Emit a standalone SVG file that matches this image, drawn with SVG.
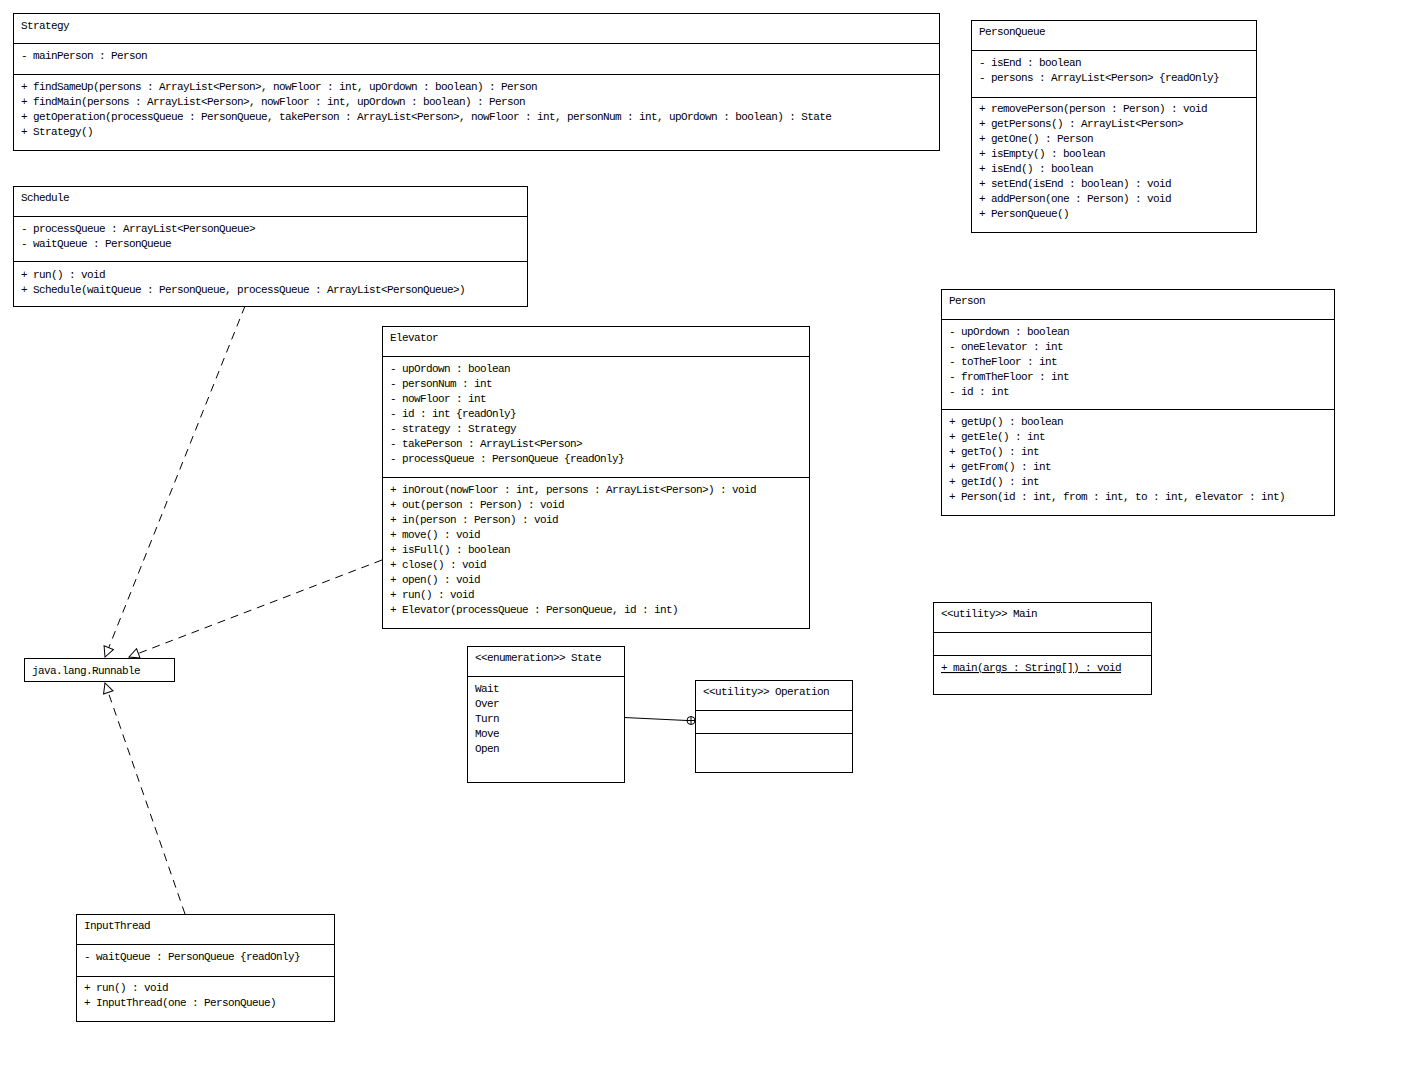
<svg xmlns="http://www.w3.org/2000/svg" width="1404" height="1066" viewBox="0 0 1404 1066">
<style>
.box{fill:#fff;stroke:#000;stroke-width:1}
.sep{stroke:#000;stroke-width:1}
text{font-family:"Liberation Mono","DejaVu Sans Mono",monospace;font-size:11px;letter-spacing:-0.6px;fill:#000}
.dep{fill:none;stroke:#000;stroke-width:1;stroke-dasharray:8,6}
.solid{fill:none;stroke:#000;stroke-width:1}
</style>
<defs>
<marker id="tri" viewBox="0 0 12 12" refX="11" refY="6" markerWidth="12" markerHeight="12" markerUnits="userSpaceOnUse" orient="auto">
<path d="M1,1 L11,6 L1,11 Z" fill="#fff" stroke="#000" stroke-width="1" stroke-dasharray="none"/>
</marker>
</defs>
<rect width="1404" height="1066" fill="#fff"/>

<g id="connectors">
<path class="dep" d="M245,306 L105,657" marker-end="url(#tri)"/>
<path class="dep" d="M382,560 L129,657" marker-end="url(#tri)"/>
<path class="dep" d="M185,914 L105,683" marker-end="url(#tri)"/>
<path class="solid" d="M624,717.5 L687,720.5"/>
<circle cx="691" cy="720.5" r="4" fill="#fff" stroke="#000"/>
<path class="solid" d="M687,720.5 L695,720.5 M691,716.5 L691,724.5"/>
</g>

<g id="Strategy">
<rect class="box" x="13.5" y="13.5" width="926" height="137"/>
<line class="sep" x1="13.5" y1="43.5" x2="939.5" y2="43.5"/>
<line class="sep" x1="13.5" y1="74.5" x2="939.5" y2="74.5"/>
<text x="21" y="29">Strategy</text>
<text x="21" y="59">- mainPerson : Person</text>
<text x="21" y="90">+ findSameUp(persons : ArrayList&lt;Person&gt;, nowFloor : int, upOrdown : boolean) : Person</text>
<text x="21" y="105">+ findMain(persons : ArrayList&lt;Person&gt;, nowFloor : int, upOrdown : boolean) : Person</text>
<text x="21" y="120">+ getOperation(processQueue : PersonQueue, takePerson : ArrayList&lt;Person&gt;, nowFloor : int, personNum : int, upOrdown : boolean) : State</text>
<text x="21" y="135">+ Strategy()</text>
</g>

<g id="Schedule">
<rect class="box" x="13.5" y="186.5" width="514" height="120"/>
<line class="sep" x1="13.5" y1="216.5" x2="527.5" y2="216.5"/>
<line class="sep" x1="13.5" y1="261.5" x2="527.5" y2="261.5"/>
<text x="21" y="201">Schedule</text>
<text x="21" y="232">- processQueue : ArrayList&lt;PersonQueue&gt;</text>
<text x="21" y="247">- waitQueue : PersonQueue</text>
<text x="21" y="278">+ run() : void</text>
<text x="21" y="293">+ Schedule(waitQueue : PersonQueue, processQueue : ArrayList&lt;PersonQueue&gt;)</text>
</g>

<g id="PersonQueue">
<rect class="box" x="971.5" y="20.5" width="285" height="212"/>
<line class="sep" x1="971.5" y1="50.5" x2="1256.5" y2="50.5"/>
<line class="sep" x1="971.5" y1="97.5" x2="1256.5" y2="97.5"/>
<text x="979" y="35">PersonQueue</text>
<text x="979" y="66">- isEnd : boolean</text>
<text x="979" y="81">- persons : ArrayList&lt;Person&gt; {readOnly}</text>
<text x="979" y="112">+ removePerson(person : Person) : void</text>
<text x="979" y="127">+ getPersons() : ArrayList&lt;Person&gt;</text>
<text x="979" y="142">+ getOne() : Person</text>
<text x="979" y="157">+ isEmpty() : boolean</text>
<text x="979" y="172">+ isEnd() : boolean</text>
<text x="979" y="187">+ setEnd(isEnd : boolean) : void</text>
<text x="979" y="202">+ addPerson(one : Person) : void</text>
<text x="979" y="217">+ PersonQueue()</text>
</g>

<g id="Person">
<rect class="box" x="941.5" y="289.5" width="393" height="226"/>
<line class="sep" x1="941.5" y1="319.5" x2="1334.5" y2="319.5"/>
<line class="sep" x1="941.5" y1="409.5" x2="1334.5" y2="409.5"/>
<text x="949" y="304">Person</text>
<text x="949" y="335">- upOrdown : boolean</text>
<text x="949" y="350">- oneElevator : int</text>
<text x="949" y="365">- toTheFloor : int</text>
<text x="949" y="380">- fromTheFloor : int</text>
<text x="949" y="395">- id : int</text>
<text x="949" y="425">+ getUp() : boolean</text>
<text x="949" y="440">+ getEle() : int</text>
<text x="949" y="455">+ getTo() : int</text>
<text x="949" y="470">+ getFrom() : int</text>
<text x="949" y="485">+ getId() : int</text>
<text x="949" y="500">+ Person(id : int, from : int, to : int, elevator : int)</text>
</g>

<g id="Elevator">
<rect class="box" x="382.5" y="326.5" width="427" height="302"/>
<line class="sep" x1="382.5" y1="356.5" x2="809.5" y2="356.5"/>
<line class="sep" x1="382.5" y1="477.5" x2="809.5" y2="477.5"/>
<text x="390" y="341">Elevator</text>
<text x="390" y="372">- upOrdown : boolean</text>
<text x="390" y="387">- personNum : int</text>
<text x="390" y="402">- nowFloor : int</text>
<text x="390" y="417">- id : int {readOnly}</text>
<text x="390" y="432">- strategy : Strategy</text>
<text x="390" y="447">- takePerson : ArrayList&lt;Person&gt;</text>
<text x="390" y="462">- processQueue : PersonQueue {readOnly}</text>
<text x="390" y="493">+ inOrout(nowFloor : int, persons : ArrayList&lt;Person&gt;) : void</text>
<text x="390" y="508">+ out(person : Person) : void</text>
<text x="390" y="523">+ in(person : Person) : void</text>
<text x="390" y="538">+ move() : void</text>
<text x="390" y="553">+ isFull() : boolean</text>
<text x="390" y="568">+ close() : void</text>
<text x="390" y="583">+ open() : void</text>
<text x="390" y="598">+ run() : void</text>
<text x="390" y="613">+ Elevator(processQueue : PersonQueue, id : int)</text>
</g>

<g id="Runnable">
<rect class="box" x="24.5" y="658.5" width="150" height="23"/>
<text x="32" y="674">java.lang.Runnable</text>
</g>

<g id="State">
<rect class="box" x="467.5" y="646.5" width="157" height="136"/>
<line class="sep" x1="467.5" y1="676.5" x2="624.5" y2="676.5"/>
<text x="475" y="661">&lt;&lt;enumeration&gt;&gt; State</text>
<text x="475" y="692">Wait</text>
<text x="475" y="707">Over</text>
<text x="475" y="722">Turn</text>
<text x="475" y="737">Move</text>
<text x="475" y="752">Open</text>
</g>

<g id="Operation">
<rect class="box" x="695.5" y="680.5" width="157" height="92"/>
<line class="sep" x1="695.5" y1="710.5" x2="852.5" y2="710.5"/>
<line class="sep" x1="695.5" y1="733.5" x2="852.5" y2="733.5"/>
<text x="703" y="695">&lt;&lt;utility&gt;&gt; Operation</text>
</g>

<g id="Main">
<rect class="box" x="933.5" y="602.5" width="218" height="92"/>
<line class="sep" x1="933.5" y1="632.5" x2="1151.5" y2="632.5"/>
<line class="sep" x1="933.5" y1="655.5" x2="1151.5" y2="655.5"/>
<text x="941" y="617">&lt;&lt;utility&gt;&gt; Main</text>
<text x="941" y="671" text-decoration="underline">+ main(args : String[]) : void</text>
</g>

<g id="InputThread">
<rect class="box" x="76.5" y="914.5" width="258" height="107"/>
<line class="sep" x1="76.5" y1="944.5" x2="334.5" y2="944.5"/>
<line class="sep" x1="76.5" y1="976.5" x2="334.5" y2="976.5"/>
<text x="84" y="929">InputThread</text>
<text x="84" y="960">- waitQueue : PersonQueue {readOnly}</text>
<text x="84" y="991">+ run() : void</text>
<text x="84" y="1006">+ InputThread(one : PersonQueue)</text>
</g>
</svg>
